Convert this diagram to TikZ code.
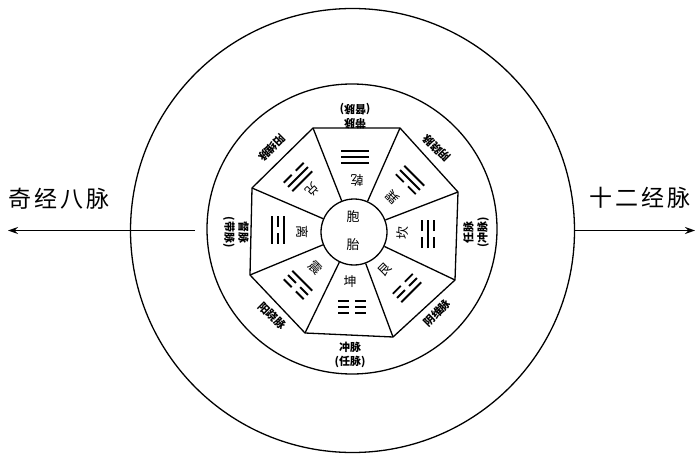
\documentclass[tikz,border=0pt]{standalone}
\usepackage{fontspec}
\newfontfamily\cjk{Noto Sans CJK SC}
\usetikzlibrary{arrows.meta}
\newcommand\yaoline[2]{\ifnum#2=1 \draw[yao] (-14,#1)--(14,#1);\else \draw[yao] (-14,#1)--(-3,#1); \draw[yao] (3,#1)--(14,#1);\fi}
\newcommand\trig[6]{%
\begin{scope}[shift={(#1,#2)},rotate=#3]
\yaoline{-6}{#4}\yaoline{0}{#5}\yaoline{6}{#6}
\end{scope}}
\begin{document}
\begin{tikzpicture}[x=1pt,y=-1pt, line width=1.3pt,
  lbl/.style={font=\cjk\bfseries\fontsize{11}{14}\selectfont, inner sep=0pt, align=center},
  gua/.style={font=\cjk\fontsize{13}{14}\selectfont, inner sep=0pt},
  big/.style={font=\cjk\fontsize{23}{26}\selectfont, inner sep=0pt},
  yao/.style={line width=1.8pt},
  arr/.style={-{Stealth[length=10pt,width=7pt]}, line width=1.3pt},
]
\useasboundingbox (0,0) rectangle (700,470);
\fill[white] (0,0) rectangle (700,470);
\node[circle,draw,minimum size=444pt,inner sep=0pt] (outer) at (352.5,230.5) {};
\node[circle,draw,minimum size=290pt,inner sep=0pt] (ring) at (352,229) {};
% octagon
\coordinate (v1) at (313,128);
\coordinate (v2) at (400,128);
\coordinate (v3) at (458,192);
\coordinate (v4) at (455,280);
\coordinate (v5) at (393,337);
\coordinate (v6) at (305,333);
\coordinate (v7) at (250,275);
\coordinate (v8) at (252,188);
\draw[line join=miter] (v1)--(v2)--(v3)--(v4)--(v5)--(v6)--(v7)--(v8)--cycle;
\node[circle,draw,minimum size=66pt,inner sep=0pt] (core) at (354,232) {};
\foreach \i in {1,...,8} \draw (v\i) -- (core);
% core text
\node[gua] (bao) at (353,217) {胞};
\node[gua] (tai) at (353,245) {胎};
% trigrams
\trig{355}{157}{180}{1}{1}{1}
\trig{410}{180}{135}{0}{1}{1}
\trig{428}{234}{90}{0}{1}{0}
\trig{407}{288}{45}{0}{0}{1}
\trig{352}{307}{0}{0}{0}{0}
\trig{298}{285}{-45}{1}{0}{0}
\trig{278}{230}{-90}{1}{0}{1}
\trig{298}{177}{-135}{1}{1}{0}
% trigram names
\node[gua,rotate=180] (qian) at (357,180) {乾};
\node[gua,rotate=135] (xun) at (393,197) {巽};
\node[gua,rotate=90] (kan) at (403,233) {坎};
\node[gua,rotate=45] (gen) at (385,270) {艮};
\node[gua] (kun) at (350,282) {坤};
\node[gua,rotate=-45] (zhen) at (315,268) {震};
\node[gua,rotate=-90] (li) at (302,232) {离};
\node[gua,rotate=-135] (dui) at (312,190) {兑};
% ring labels
\node[lbl,rotate=180] (ltop) at (355,116) {带脉\\(督脉)};
\node[lbl] (lbot) at (350,355) {冲脉\\(任脉)};
\node[lbl,rotate=-90] (lleft) at (236,232) {督脉\\(带脉)};
\node[lbl,rotate=90] (lright) at (476,232) {任脉\\(冲脉)};
\node[lbl,rotate=-135] (lul) at (272,148) {阳维脉};
\node[lbl,rotate=135] (lur) at (437,148) {阴跷脉};
\node[lbl,rotate=-45] (lll) at (272,316) {阳跷脉};
\node[lbl,rotate=45] (llr) at (437,313) {阴维脉};
% side labels and arrows
\node[big] (qj) at (59,199) {奇\kern3pt 经\kern3pt 八\kern3pt 脉};
\node[big] (se) at (640,198) {十\kern3pt 二\kern3pt 经\kern3pt 脉};
\coordinate (la) at (195,230.5);
\coordinate (lb) at (8,230.5);
\coordinate (rb) at (695,230.5);
\draw[arr] (la) -- (lb);
\draw[arr] (outer.east) -- (rb);
\end{tikzpicture}
\end{document}
